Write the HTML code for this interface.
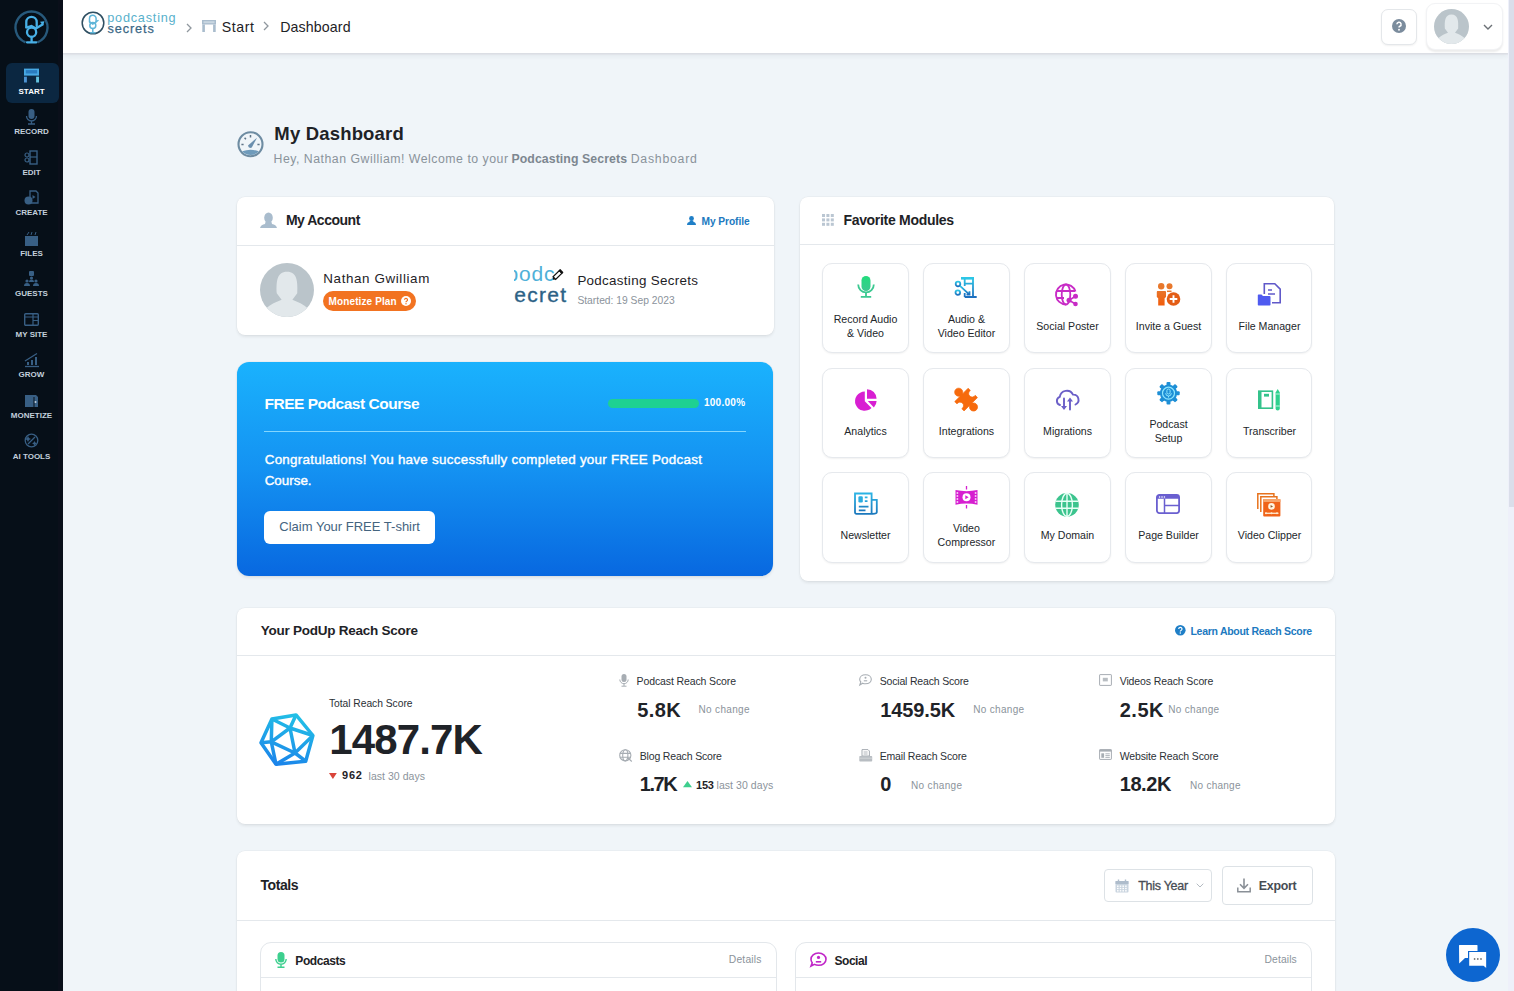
<!DOCTYPE html>
<html><head><meta charset="utf-8"><title>Dashboard</title>
<style>
*{box-sizing:border-box;margin:0;padding:0}
html,body{width:1514px;height:991px;overflow:hidden;background:#f0f5f9;font-family:"Liberation Sans",sans-serif;color:#1e2226}
.a{position:absolute}
.t{position:absolute;white-space:pre;line-height:1}
.card{position:absolute;background:#fff;border-radius:8px;box-shadow:0 0 0 .5px rgba(0,0,0,.04),0 1.5px 3px rgba(0,0,0,.07)}
.hl{position:absolute;left:0;right:0;height:1px;background:#e4e8ec}
.tile{position:absolute;width:87px;height:89px;border:1px solid #e6e9ed;border-radius:10px;background:#fff;box-shadow:0 1px 2px rgba(0,0,0,.06)}
.ic{position:absolute;overflow:visible}
</style></head><body>
<div class="a" style="left:0;top:0;width:63px;height:991px;background:#060f18"></div><div class="a" style="left:57.5px;top:0;width:5.5px;height:991px;background:#0a0f1a"></div>
<div class="a" style="left:5.5px;top:63.3px;width:53px;height:39.4px;background:#0b2741;border-radius:6px"></div>
<svg class="ic" style="left:12px;top:8px" width="40" height="40" viewBox="0 0 40 40">
<path d="M13.5 34.3 A16 16 0 1 1 25.5 34.3" fill="none" stroke="#27597b" stroke-width="2.4"/>
<g fill="none" stroke="#48b0e6" stroke-width="2.3" stroke-linecap="round">
<path d="M14.3 19 V14 a5.2 5.2 0 0 1 10.4 0 V18"/>
<circle cx="19.6" cy="24.2" r="4.6"/>
<path d="M19.6 28.8 V33.5 M15 34.3 H24.3"/>
<path d="M14.3 19.5 L19.5 18 L24 20.5 L30.5 16.5"/>
</g><path d="M28 13.8 L32.5 13.2 L31 17.8 Z" fill="#48b0e6"/></svg>
<svg class="ic" style="left:24px;top:68.4px" width="15" height="15" viewBox="0 0 15 15"><rect x="0" y="0.6" width="15" height="7" fill="#48a9e4"/><rect x="1.8" y="2.1" width="11.4" height="3.4" fill="#2a7cc0"/><rect x="0" y="8.7" width="2.9" height="5.8" fill="#4d93d2"/><rect x="12.1" y="8.7" width="2.9" height="5.8" fill="#63c2df"/></svg>
<svg class="ic" style="left:24px;top:108.9px" width="15" height="15" viewBox="0 0 15 15"><rect x="4.5" y="0" width="6" height="10" rx="3" fill="#385f84"/><path d="M2.5 7 a5 5 0 0 0 10 0 M7.5 12 v2.5 M4 15 h7" stroke="#385f84" stroke-width="1.3" fill="none"/></svg>
<svg class="ic" style="left:24px;top:149.5px" width="15" height="15" viewBox="0 0 15 15"><rect x="6" y="1" width="7" height="13" fill="none" stroke="#385f84" stroke-width="1.4"/><circle cx="3" cy="5" r="2" fill="none" stroke="#385f84" stroke-width="1.2"/><circle cx="3" cy="10" r="2" fill="none" stroke="#385f84" stroke-width="1.2"/><path d="M6 7 h7" stroke="#385f84" stroke-width="1.2"/></svg>
<svg class="ic" style="left:24px;top:190.1px" width="15" height="15" viewBox="0 0 15 15"><path d="M6 1 h6 l2 2 v10 h-8z" fill="none" stroke="#385f84" stroke-width="1.3"/><path d="M8.5 5 l3 2 -3 2z" fill="#385f84"/><circle cx="4.5" cy="10.5" r="4" fill="#385f84"/></svg>
<svg class="ic" style="left:24px;top:230.6px" width="15" height="15" viewBox="0 0 15 15"><rect x="1" y="5" width="13" height="10" fill="#385f84"/><path d="M3 4 l2-3 M7 4 l1-3 M11 4 l1-3" stroke="#385f84" stroke-width="1"/></svg>
<svg class="ic" style="left:24px;top:271.1px" width="15" height="15" viewBox="0 0 15 15"><rect x="5" y="0" width="5" height="5" rx="1" fill="#385f84"/><circle cx="7.5" cy="7" r="1.6" fill="#385f84"/><circle cx="3" cy="10" r="1.6" fill="#385f84"/><circle cx="12" cy="10" r="1.6" fill="#385f84"/><path d="M0 15 a3 3 0 0 1 6 0z M9 15 a3 3 0 0 1 6 0z M5 11 a2.5 2.5 0 0 1 5 0z" fill="#385f84"/></svg>
<svg class="ic" style="left:24px;top:311.7px" width="15" height="15" viewBox="0 0 15 15"><rect x="0.7" y="1.7" width="13.6" height="11.6" rx="1" fill="none" stroke="#385f84" stroke-width="1.4"/><path d="M0.7 5 h13.6 M9 1.7 v11.6 M9 8.5 h5.3" stroke="#385f84" stroke-width="1.2"/></svg>
<svg class="ic" style="left:24px;top:352.2px" width="15" height="15" viewBox="0 0 15 15"><path d="M1 14.5 h14" stroke="#385f84" stroke-width="1.3"/><rect x="3" y="10" width="2" height="3" fill="#385f84"/><rect x="7" y="8" width="2" height="5" fill="#385f84"/><rect x="11" y="5" width="2" height="8" fill="#385f84"/><path d="M1 9 L13 1.5" stroke="#385f84" stroke-width="1.3"/></svg>
<svg class="ic" style="left:24px;top:392.8px" width="15" height="15" viewBox="0 0 15 15"><path d="M1 2 h11 l2 2 v10 h-13z" fill="#385f84"/><path d="M10 4 v10" stroke="#08121b" stroke-width="1"/><circle cx="11.5" cy="9" r="1" fill="#c3d0dc"/></svg>
<svg class="ic" style="left:24px;top:433.4px" width="15" height="15" viewBox="0 0 15 15"><circle cx="7.5" cy="7.5" r="6.3" fill="none" stroke="#385f84" stroke-width="1.3"/><path d="M4 11 L11 4" stroke="#385f84" stroke-width="1.3"/><path d="M4 3 l1 2 2 1 -2 1 -1 2 -1-2 -2-1 2-1z M10.5 8 l.8 1.6 1.6.8 -1.6.8 -.8 1.6 -.8-1.6 -1.6-.8 1.6-.8z" fill="#385f84"/></svg>
<div class="a" style="left:63px;top:0;width:1445px;height:53px;background:#fff;box-shadow:0 1.5px 0 rgba(215,217,224,.7),0 3px 5px rgba(40,50,70,.07)"></div>
<svg class="ic" style="left:81px;top:11px" width="24" height="24" viewBox="0 0 24 24"><circle cx="12" cy="12" r="10.8" fill="none" stroke="#2f4f62" stroke-width="1.5"/>
<g fill="none" stroke="#5fb5d8" stroke-width="1.5" stroke-linecap="round"><path d="M8.5 11 V7.5 a3.3 3.3 0 0 1 6.6 0 V11"/><circle cx="11.8" cy="14.5" r="3"/><path d="M11.8 17.5 V21.5 M9.5 21.8 H14"/><path d="M8.7 11 L11.8 13 L17 9.5"/></g></svg>
<svg class="ic" style="left:186px;top:22.5px" width="7" height="10" viewBox="0 0 7 10"><path d="M1 1 L5 5 L1 9" fill="none" stroke="#8f979e" stroke-width="1.3"/></svg>
<svg class="ic" style="left:263px;top:20.5px" width="7" height="10" viewBox="0 0 7 10"><path d="M1 1 L5 5 L1 9" fill="none" stroke="#8f979e" stroke-width="1.3"/></svg>
<svg class="ic" style="left:201.5px;top:20px" width="14" height="12" viewBox="0 0 14 12"><rect x="0" y="0" width="14" height="4.5" fill="#a9bccd"/><rect x="1.5" y="1.2" width="11" height="2" fill="#c9d6e1"/><rect x="0.3" y="4.5" width="2.6" height="7.5" fill="#a9bccd"/><rect x="11.1" y="4.5" width="2.6" height="7.5" fill="#a9bccd"/></svg>
<div class="a" style="left:1381px;top:9px;width:35.5px;height:36px;border:1px solid #e4e7ea;border-radius:7px;background:#fff;box-shadow:0 1px 2px rgba(0,0,0,.06)"></div>
<svg class="ic" style="left:1392px;top:19px" width="14" height="14" viewBox="0 0 14 14"><circle cx="7" cy="7" r="7" fill="#7b8c9d"/><path d="M4.9 5.3 a2.1 2.1 0 1 1 3 1.9 c-.6.3-.9.7-.9 1.4" fill="none" stroke="#fff" stroke-width="1.5"/><circle cx="7" cy="10.7" r=".95" fill="#fff"/></svg>
<div class="a" style="left:1425.5px;top:3px;width:77px;height:46.5px;border:1px solid #f2f3f5;border-radius:9px;background:#fff;box-shadow:0 1.5px 2px rgba(0,0,0,.08)"></div>
<svg class="ic" style="left:1433.5px;top:9px" width="35" height="35" viewBox="0 0 35 35"><clipPath id="cp1433"><circle cx="17.5" cy="17.5" r="17.5"/></clipPath><g clip-path="url(#cp1433)"><rect width="35" height="35" fill="#bac4ca"/>
<path d="M10.85 19.60 C10.50 12.25 10.85 5.60 17.50 5.60 C24.15 5.60 24.50 12.25 24.15 19.60 L21.00 23.80 C24.50 25.20 28.00 26.60 31.50 29.75 L31.50 35.00 L3.50 35.00 L3.50 29.75 C7.00 26.60 10.50 25.20 14.00 23.80 Z" fill="#e2e8eb"/></g></svg>
<svg class="ic" style="left:1482.5px;top:23.5px" width="10" height="6" viewBox="0 0 10 6"><path d="M1 1 L5 5 L9 1" fill="none" stroke="#6b7075" stroke-width="1.4"/></svg>
<div class="a" style="left:1508px;top:0;width:6px;height:991px;background:#eef0fa"></div>
<div class="a" style="left:1509px;top:0;width:5px;height:507px;background:#dadeea"></div>
<svg class="ic" style="left:237px;top:131px" width="27" height="27" viewBox="0 0 27 27"><circle cx="13.5" cy="13.2" r="12" fill="none" stroke="#6e8ca2" stroke-width="2.1"/>
<path d="M5.2 20.3 Q13.5 17.3 21.8 20.3 A11 11 0 0 1 5.2 20.3 Z" fill="#6f9bbb"/>
<path d="M11 14.6 L20 6.7 L14.8 16.6 Q11.6 17.8 11 14.6 Z" fill="#6b8fae"/>
<g stroke="#5f7587" stroke-width="1.5"><path d="M13.5 4.1 v2.3 M7.6 6.7 l1.3 1.5 M4.4 13.5 h2.2 M20.4 13.5 h2.2"/></g></svg>
<div class="card" style="left:237px;top:197px;width:536.5px;height:138px"><div class="hl" style="top:47.5px"></div></div>
<div class="card" style="left:237px;top:362px;width:536px;height:214px;border-radius:12px;background:linear-gradient(180deg,#1ab2fd 0%,#1492f2 50%,#0868e0 100%)"></div>
<div class="card" style="left:800px;top:197px;width:534px;height:384px"><div class="hl" style="top:46.5px"></div></div>
<div class="card" style="left:237px;top:608px;width:1097.5px;height:216px"><div class="hl" style="top:47px"></div></div>
<div class="card" style="left:237px;top:851px;width:1097.5px;height:160px"><div class="hl" style="top:69px"></div></div>
<svg class="ic" style="left:260px;top:212px" width="17" height="16" viewBox="0 0 17 16"><ellipse cx="8.5" cy="5.8" rx="4.3" ry="5.3" fill="#a9bccd"/><path d="M5.5 10 L11.5 10 L12 12 C14.5 12.5 16.5 13.5 17 16 L0 16 C0.5 13.5 2.5 12.5 5 12 Z" fill="#a9bccd"/></svg>
<svg class="ic" style="left:687px;top:216px" width="9" height="9" viewBox="0 0 9 9"><circle cx="4.5" cy="2.5" r="2.4" fill="#1f7fc7"/><path d="M2.8 4.5 h3.4 l.3 1.5 c1.5.3 2.4 1 2.5 3 h-9 c.1-2 1-2.7 2.5-3z" fill="#1f7fc7"/></svg>
<svg class="ic" style="left:260px;top:263px" width="54" height="54" viewBox="0 0 54 54"><clipPath id="cp260"><circle cx="27.0" cy="27.0" r="27.0"/></clipPath><g clip-path="url(#cp260)"><rect width="54" height="54" fill="#bac4ca"/>
<path d="M16.74 30.24 C16.20 18.90 16.74 8.64 27.00 8.64 C37.26 8.64 37.80 18.90 37.26 30.24 L32.40 36.72 C37.80 38.88 43.20 41.04 48.60 45.90 L48.60 54.00 L5.40 54.00 L5.40 45.90 C10.80 41.04 16.20 38.88 21.60 36.72 Z" fill="#e2e8eb"/></g></svg>
<div class="a" style="left:323px;top:291px;width:93px;height:19.5px;border-radius:10px;background:#f27321"></div>
<svg class="ic" style="left:401px;top:295.5px" width="10" height="10" viewBox="0 0 10 10"><circle cx="5" cy="5" r="5" fill="#fff"/><path d="M3.5 3.8 a1.5 1.5 0 1 1 2.1 1.4 c-.4.2-.6.5-.6 1" fill="none" stroke="#f27321" stroke-width="1.2"/><circle cx="5" cy="7.7" r=".7" fill="#f27321"/></svg>
<div class="a" style="left:514px;top:262px;width:54px;height:43px;overflow:hidden"><div class="t" style="left:-7.5px;top:1.3px;font-size:21px;color:#4fb0d8;letter-spacing:0.8px">podc</div><div class="t" style="left:0.3px;top:21.7px;font-size:21px;color:#2c6286;letter-spacing:1.3px;-webkit-text-stroke:0.35px #2c6286">ecret</div></div>
<svg class="ic" style="left:551px;top:268.5px" width="12.5" height="12.5" viewBox="0 0 12.5 12.5"><g transform="rotate(-45 6.25 6.25)"><rect x="2.2" y="4.4" width="8.8" height="3.7" fill="#fff" stroke="#111" stroke-width="1.2"/><path d="M2.2 4.4 L0 6.25 L2.2 8.1Z" fill="#111"/><rect x="10.4" y="3.8" width="2.4" height="4.9" rx=".6" fill="#111"/></g></svg>
<div class="a" style="left:264px;top:431px;width:482px;height:1px;background:rgba(150,225,255,.85)"></div>
<div class="a" style="left:608px;top:399px;width:91px;height:9px;border-radius:5px;background:#1ed192"></div>
<div class="a" style="left:264px;top:510.5px;width:171px;height:33.5px;border-radius:6px;background:#fff"></div>
<svg class="ic" style="left:822px;top:214px" width="12" height="12" viewBox="0 0 12 12"><rect x="0.0" y="0.0" width="3" height="3" fill="#bac6d2"/><rect x="4.4" y="0.0" width="3" height="3" fill="#bac6d2"/><rect x="8.8" y="0.0" width="3" height="3" fill="#bac6d2"/><rect x="0.0" y="4.4" width="3" height="3" fill="#bac6d2"/><rect x="4.4" y="4.4" width="3" height="3" fill="#bac6d2"/><rect x="8.8" y="4.4" width="3" height="3" fill="#bac6d2"/><rect x="0.0" y="8.8" width="3" height="3" fill="#bac6d2"/><rect x="4.4" y="8.8" width="3" height="3" fill="#bac6d2"/><rect x="8.8" y="8.8" width="3" height="3" fill="#bac6d2"/></svg>
<div class="tile" style="left:822px;top:263px;height:89.5px"></div>
<div class="tile" style="left:923px;top:263px;height:89.5px"></div>
<div class="tile" style="left:1024px;top:263px;height:89.5px"></div>
<div class="tile" style="left:1125px;top:263px;height:89.5px"></div>
<div class="tile" style="left:1226px;top:263px;height:89.5px;width:86px"></div>
<div class="tile" style="left:822px;top:368.3px;height:89.5px"></div>
<div class="tile" style="left:923px;top:368.3px;height:89.5px"></div>
<div class="tile" style="left:1024px;top:368.3px;height:89.5px"></div>
<div class="tile" style="left:1125px;top:368.3px;height:89.5px"></div>
<div class="tile" style="left:1226px;top:368.3px;height:89.5px;width:86px"></div>
<div class="tile" style="left:822px;top:472px;height:90.5px"></div>
<div class="tile" style="left:923px;top:472px;height:90.5px"></div>
<div class="tile" style="left:1024px;top:472px;height:90.5px"></div>
<div class="tile" style="left:1125px;top:472px;height:90.5px"></div>
<div class="tile" style="left:1226px;top:472px;height:90.5px;width:86px"></div>
<svg class="ic" style="left:856.9px;top:276.0px" width="18" height="22" viewBox="0 0 18 22"><defs><linearGradient id="gm" x1="0" y1="0" x2="0" y2="1"><stop offset="0" stop-color="#22dc7c"/><stop offset="1" stop-color="#3cc991"/></linearGradient></defs>
<rect x="4.5" y="0" width="9" height="15" rx="4.5" fill="url(#gm)"/>
<path d="M1.2 8.5 a7.8 7.8 0 0 0 15.6 0" fill="none" stroke="#3cc991" stroke-width="1.8"/>
<path d="M9 16.5 V20.5 M3.8 20.8 H14.2" fill="none" stroke="#3cc991" stroke-width="1.8"/></svg>
<svg class="ic" style="left:955.0px;top:276.9px" width="23" height="21" viewBox="0 0 23 21"><defs><linearGradient id="ge" x1="0" y1="0" x2="0" y2="1"><stop offset="0" stop-color="#2cc6e6"/><stop offset="1" stop-color="#1c6fbf"/></linearGradient></defs>
<rect x="6" y="0" width="13" height="2.6" fill="#2cc6e6"/>
<g fill="none" stroke="url(#ge)" stroke-width="1.8">
<path d="M9.7 1 V9 M18 1 V20 H21.7 M9.7 20 H18 M9.7 6.6 H18 M9.7 16 V20"/>
<circle cx="3" cy="7" r="2.3"/><circle cx="2.8" cy="15.6" r="2.3"/><path d="M5 8.8 L14.2 17.3 M11.5 17.6 H14.5 V14.3"/></g></svg>
<svg class="ic" style="left:1055.1px;top:283.0px" width="24" height="23" viewBox="0 0 24 23"><g fill="none" stroke="#c82cc6" stroke-width="1.8">
<path d="M20.5 8.5 A10 10 0 1 0 11 21.5"/><ellipse cx="11" cy="11.5" rx="4.3" ry="10"/><path d="M1.5 8 H20 M1.5 15 H9"/></g>
<g fill="#c82cc6"><circle cx="20.5" cy="13.3" r="2.5"/><circle cx="14" cy="17.3" r="2.5"/><circle cx="20.5" cy="21" r="2.3"/></g>
<path d="M20.5 13.3 L14 17.3 L20.5 21" stroke="#c82cc6" stroke-width="1.6" fill="none"/></svg>
<svg class="ic" style="left:1155.9px;top:283.0px" width="25" height="23.5" viewBox="0 0 25 23.5"><defs><linearGradient id="go" x1="0" y1="0" x2="0" y2="1"><stop offset="0" stop-color="#e8742a"/><stop offset="1" stop-color="#f25d0c"/></linearGradient></defs>
<circle cx="5.2" cy="3.3" r="3.2" fill="#e8782c"/><circle cx="13.5" cy="3.3" r="3" fill="#e8782c"/>
<path d="M1.5 8 H9 C9.6 8 10 8.5 10 9 V14 L8.6 15.2 V22.5 H2.2 V15.2 L0.8 14 V9 C0.8 8.5 1.2 8 1.5 8Z" fill="url(#go)"/>
<path d="M11 8.3 H15.5" stroke="#e8782c" stroke-width="1.5"/>
<circle cx="17.5" cy="16" r="6.8" fill="#e35d16"/><path d="M17.5 12.2 V19.8 M13.7 16 H21.3" stroke="#fff" stroke-width="1.9"/></svg>
<svg class="ic" style="left:1257.2px;top:282.9px" width="24" height="23.5" viewBox="0 0 24 23.5"><path d="M7.3 11 V0.8 H17.8 L23.2 6.2 V19.7 H15" fill="none" stroke="#6059c9" stroke-width="1.6"/>
<path d="M11 7 H15 M11 11 H18" stroke="#6059c9" stroke-width="1.6"/>
<path d="M0.8 12.2 Q0.8 11.5 1.5 11.5 H4.5 L6 13 H12.5 Q13.5 13 13.5 14 V21.8 Q13.5 22.6 12.7 22.6 H1.6 Q0.8 22.6 0.8 21.8Z" fill="#4f5bf0"/></svg>
<svg class="ic" style="left:854.6px;top:388.8px" width="22" height="22" viewBox="0 0 22 22"><g fill="#d81fd2"><path d="M9.8 2.6 V12.2 L16.5 18.9 A9.6 9.6 0 1 1 9.8 2.6Z"/>
<path d="M12 0.2 A9.6 9.6 0 0 1 21.6 9.8 H12Z"/><path d="M12.8 12 H21.6 A9.6 9.6 0 0 1 18.9 18.4Z"/></g></svg>
<svg class="ic" style="left:954.1px;top:387.9px" width="24" height="23.5" viewBox="0 0 24 23.5"><g transform="translate(12.1 11.6) rotate(-45) scale(1.1)" fill="#f66a0d" stroke="#f66a0d" stroke-width="0.6" stroke-linejoin="round">
<path d="M-8.6 -6 H-2 V-6.4 A3.7 3.7 0 1 1 2 -6.4 V-6 H8.6 V-3.1 A3.2 3.2 0 1 0 8.6 3.1 V6 H2 V6.4 A3.7 3.7 0 1 1 -2 6.4 V6 H-8.6 V3.1 A3.2 3.2 0 1 0 -8.6 -3.1 Z"/></g></svg>
<svg class="ic" style="left:1055.1px;top:388.9px" width="24" height="21.5" viewBox="0 0 24 21.5"><g fill="none" stroke="#6b5fc8" stroke-width="1.9" stroke-linecap="round">
<path d="M5 16 A4.3 4.3 0 0 1 4.8 7.8 A7 7 0 0 1 18 5.6 A5.2 5.2 0 0 1 20.5 15.5"/>
<path d="M9 9.5 V19 M15 20.5 V11"/></g>
<path d="M6 17 H12 L9 21Z M12 12.5 H18 L15 8.5Z" fill="#6b5fc8"/></svg>
<svg class="ic" style="left:1157.3px;top:381.9px" width="23" height="22.5" viewBox="0 0 23 22.5"><g transform="translate(11.5 11.2)"><g fill="#1e8fd6">
<circle r="8.6"/><rect x="-2" y="-11.2" width="4" height="4" rx="1" transform="rotate(0)"/><rect x="-2" y="-11.2" width="4" height="4" rx="1" transform="rotate(45)"/><rect x="-2" y="-11.2" width="4" height="4" rx="1" transform="rotate(90)"/><rect x="-2" y="-11.2" width="4" height="4" rx="1" transform="rotate(135)"/><rect x="-2" y="-11.2" width="4" height="4" rx="1" transform="rotate(180)"/><rect x="-2" y="-11.2" width="4" height="4" rx="1" transform="rotate(225)"/><rect x="-2" y="-11.2" width="4" height="4" rx="1" transform="rotate(270)"/><rect x="-2" y="-11.2" width="4" height="4" rx="1" transform="rotate(315)"/></g>
<circle r="6" fill="none" stroke="#8ee6ff" stroke-width="1.2"/>
<rect x="-1.6" y="-4.2" width="3.2" height="5" rx="1.6" fill="none" stroke="#8ee6ff" stroke-width="1"/>
<path d="M-2.8 0 a2.8 2.8 0 0 0 5.6 0 M0 2.8 V4.3" fill="none" stroke="#8ee6ff" stroke-width="1"/></g></svg>
<svg class="ic" style="left:1258.1px;top:388.5px" width="22.5" height="21.5" viewBox="0 0 22.5 21.5"><g fill="none" stroke="#34c28b" stroke-width="1.6"><rect x="0.8" y="2.2" width="13.6" height="17"/></g>
<rect x="0.5" y="1.9" width="3" height="17.6" fill="#34c28b"/><rect x="6" y="4.8" width="5" height="2.8" fill="#34c28b"/>
<path d="M19.7 0 L21.8 3.5 V19.5 Q21.8 21.4 19.7 21.4 Q17.6 21.4 17.6 19.5 V3.5Z" fill="#2fd18e"/>
<path d="M17.6 5 H21.8 M17.6 17 H21.8" stroke="#b9f5dc" stroke-width="1"/></svg>
<svg class="ic" style="left:853.8px;top:491.9px" width="24" height="23" viewBox="0 0 24 23"><defs><linearGradient id="gn" x1="0" y1="0" x2="0" y2="1"><stop offset="0" stop-color="#2bb3e4"/><stop offset="1" stop-color="#1b78bd"/></linearGradient></defs>
<g fill="none" stroke="url(#gn)" stroke-width="1.8"><path d="M18.6 21.8 H2.5 Q1 21.8 1 20.3 V1.5 H17.6 V20.8 Q17.6 21.8 18.6 21.8 Q22.8 21.8 22.8 20.3 V7.8 H17.6"/>
<path d="M4.8 14.7 H14.5 M4.8 18.3 H11.5 M10.8 5.3 H13.5 M10.8 9.2 H13.5"/></g><rect x="4.4" y="4.2" width="4.4" height="6.4" rx="1.3" fill="#2bace0"/></svg>
<svg class="ic" style="left:954.6px;top:485.7px" width="23" height="22.5" viewBox="0 0 23 22.5"><path d="M0.5 4 Q11.5 6.3 22.5 4 V18.7 Q11.5 16.4 0.5 18.7Z" fill="#d61fd0"/>
<g fill="#fff"><rect x="1.6" y="6.3" width="1.6" height="1.4"/><rect x="1.6" y="9.3" width="1.6" height="1.4"/><rect x="1.6" y="12.3" width="1.6" height="1.4"/><rect x="1.6" y="15.3" width="1.6" height="1.4"/><rect x="19.8" y="6.3" width="1.6" height="1.4"/><rect x="19.8" y="9.3" width="1.6" height="1.4"/><rect x="19.8" y="12.3" width="1.6" height="1.4"/><rect x="19.8" y="15.3" width="1.6" height="1.4"/></g>
<circle cx="11.5" cy="11.3" r="4" fill="#fff"/><path d="M10.3 9.3 L13.6 11.3 L10.3 13.3Z" fill="#d61fd0"/>
<path d="M11.5 0 V3.6 M11.5 19 V22.6" stroke="#d61fd0" stroke-width="1.3"/></svg>
<svg class="ic" style="left:1055.1px;top:493.0px" width="24" height="23.5" viewBox="0 0 24 23.5"><circle cx="12" cy="11.8" r="11.8" fill="#3cc48e"/>
<g fill="none" stroke="#e8fff6" stroke-width="1.4"><ellipse cx="12" cy="11.8" rx="5.4" ry="11.6"/><path d="M12 0 V23.6 M0.5 8.3 H23.5 M0.5 15.3 H23.5"/></g></svg>
<svg class="ic" style="left:1156.2px;top:493.9px" width="24" height="20" viewBox="0 0 24 20"><rect x="0.9" y="0.9" width="22.2" height="18.2" rx="2.5" fill="none" stroke="#6a5fd0" stroke-width="1.8"/>
<path d="M0.9 3 Q0.9 0.9 3 0.9 H21 Q23.1 0.9 23.1 3 V4.8 H0.9Z" fill="#6a5fd0"/>
<g fill="#fff"><circle cx="3.6" cy="3" r=".8"/><circle cx="6" cy="3" r=".8"/><circle cx="8.4" cy="3" r=".8"/></g>
<path d="M8.5 4.8 V19 M8.5 11.5 H23" stroke="#6a5fd0" stroke-width="1.5"/></svg>
<svg class="ic" style="left:1257.3px;top:492.9px" width="24" height="24" viewBox="0 0 24 24"><g fill="none" stroke="#e7731e" stroke-width="1.5"><path d="M0.8 16 V0.8 H16.9 V3"/><path d="M3.8 19 V3.8 H19.9 V6"/></g>
<rect x="6.2" y="6" width="17.2" height="17.4" rx="1" fill="#f06318"/><rect x="6.2" y="6" width="17.2" height="3" fill="#f6a46a"/>
<circle cx="14.5" cy="13.4" r="3.3" fill="#fff4e0"/><path d="M13.6 12 L16 13.4 L13.6 14.8Z" fill="#8a5a2a"/>
<path d="M8 20.3 H21.5" stroke="#ffe7cc" stroke-width="1.3"/><g fill="#ffe7cc"><circle cx="9" cy="20.3" r="1"/><circle cx="14.5" cy="20.3" r="1"/><circle cx="20" cy="20.3" r="1"/></g></svg>
<svg class="ic" style="left:259px;top:713px" width="56" height="53" viewBox="0 0 56 53"><defs><linearGradient id="gi" x1="0.6" y1="0" x2="0.3" y2="1"><stop offset="0" stop-color="#22bfe6"/><stop offset="1" stop-color="#1b84ea"/></linearGradient></defs>
<g fill="none" stroke="url(#gi)" stroke-width="3.5" stroke-linejoin="round">
<path d="M12.9 6 L37 1.9 L53.9 22.5 L46.7 48.2 L17 51.3 L2 29.7 Z"/>
<path d="M12.9 6 L31 15 L53.9 22.5 M37 1.9 L31 15 L12.3 28.8 L36 40 L31 15 M12.9 6 L12.3 28.8 L17 51.3 M2 29.7 L12.3 28.8 M36 40 L53.9 22.5 M36 40 L46.7 48.2 M36 40 L17 51.3"/></g></svg>
<svg class="ic" style="left:328.8px;top:772.8px" width="8" height="6.5" viewBox="0 0 8 6.5"><path d="M0 0 H7.8 L3.9 6Z" fill="#d9443a"/></svg>
<svg class="ic" style="left:682.8px;top:781.3px" width="9.2" height="6.5" viewBox="0 0 9.2 6.5"><path d="M0 6.2 H9 L4.5 0Z" fill="#3ecf8e"/></svg>
<svg class="ic" style="left:618.5px;top:674px" width="10" height="13" viewBox="0 0 10 13"><rect x="2.5" y="0" width="5" height="8" rx="2.5" fill="#a7adb3"/><path d="M0.8 5.5 a4.2 4.2 0 0 0 8.4 0 M5 9.8 V12 M2.5 12.2 H7.5" fill="none" stroke="#a7adb3" stroke-width="1"/></svg>
<svg class="ic" style="left:618.5px;top:748.5px" width="13.5" height="13" viewBox="0 0 13.5 13"><g fill="none" stroke="#a7adb3" stroke-width="1.1"><circle cx="6.3" cy="6.3" r="5.6"/><ellipse cx="6.3" cy="6.3" rx="2.6" ry="5.6"/><path d="M0.8 4.4 H11.8 M0.8 8.2 H11.8"/><path d="M9 9 L12.8 12.5"/></g></svg>
<svg class="ic" style="left:858.5px;top:674px" width="13" height="12" viewBox="0 0 13 12"><path d="M6.5 0.7 C10 0.7 12.3 2.8 12.3 5.3 C12.3 7.8 10 9.8 6.5 9.8 C5.5 9.8 4.5 9.6 3.7 9.2 L0.8 11 L1.8 8 C1.1 7.3 0.7 6.3 0.7 5.3 C0.7 2.8 3 0.7 6.5 0.7Z" fill="none" stroke="#a7adb3" stroke-width="1.1"/><circle cx="6.5" cy="3.8" r="1" fill="#a7adb3"/><path d="M4.8 6.8 h3.4" stroke="#a7adb3" stroke-width="1.1"/></svg>
<svg class="ic" style="left:858.5px;top:748.5px" width="13.5" height="13" viewBox="0 0 13.5 13"><path d="M3 0.6 H9 L10.4 2 V7 H3Z" fill="none" stroke="#a7adb3" stroke-width="1"/><path d="M4.6 3 H8.6 M4.6 5 H8.6" stroke="#a7adb3" stroke-width=".9"/><rect x="0.3" y="7" width="12.9" height="5.6" rx=".8" fill="#b8bdc2"/><path d="M0.3 9.2 H13.2" stroke="#d7dadd" stroke-width=".8"/></svg>
<svg class="ic" style="left:1098.5px;top:674px" width="13" height="12" viewBox="0 0 13 12"><rect x="0.6" y="0.6" width="11.8" height="10.8" rx=".5" fill="none" stroke="#a7adb3" stroke-width="1"/><rect x="3.8" y="3.8" width="5" height="3.6" fill="#b8bdc2"/></svg>
<svg class="ic" style="left:1098.5px;top:749px" width="13" height="11" viewBox="0 0 13 11"><rect x="0.6" y="0.6" width="11.8" height="9.8" rx=".5" fill="none" stroke="#a7adb3" stroke-width="1"/><rect x="0.6" y="0.6" width="11.8" height="2" fill="#a7adb3"/><rect x="2.3" y="4.3" width="2.8" height="4.5" fill="#a7adb3"/><path d="M6.4 4.8 H10.8 M6.4 6.6 H10.8 M6.4 8.4 H10.8" stroke="#a7adb3" stroke-width=".9"/></svg>
<svg class="ic" style="left:1175px;top:625px" width="10.6" height="10.6" viewBox="0 0 10.6 10.6"><circle cx="5.3" cy="5.3" r="5.3" fill="#1f7fc7"/><path d="M3.7 4 a1.65 1.65 0 1 1 2.3 1.5 c-.45.2-.7.55-.7 1.1" fill="none" stroke="#fff" stroke-width="1.2"/><circle cx="5.3" cy="8.1" r=".75" fill="#fff"/></svg>
<div class="a" style="left:1103.5px;top:869px;width:108.5px;height:32.5px;border:1px solid #dde2e6;border-radius:4px;background:#fff"></div>
<div class="a" style="left:1221.5px;top:866px;width:91px;height:38.5px;border:1px solid #dde2e6;border-radius:4px;background:#fff"></div>
<svg class="ic" style="left:1114.5px;top:878.5px" width="14" height="14" viewBox="0 0 14 14"><rect x="0.5" y="2" width="13" height="11.5" rx="1" fill="#c9d4df"/><rect x="0.5" y="2" width="13" height="3" fill="#aebccb"/><path d="M3.5 0.5 v3 M10.5 0.5 v3" stroke="#aebccb" stroke-width="1.4"/><rect x="2.0" y="6.5" width="1.6" height="1.4" fill="#fff"/><rect x="2.0" y="8.8" width="1.6" height="1.4" fill="#fff"/><rect x="2.0" y="11.1" width="1.6" height="1.4" fill="#fff"/><rect x="4.7" y="6.5" width="1.6" height="1.4" fill="#fff"/><rect x="4.7" y="8.8" width="1.6" height="1.4" fill="#fff"/><rect x="4.7" y="11.1" width="1.6" height="1.4" fill="#fff"/><rect x="7.4" y="6.5" width="1.6" height="1.4" fill="#fff"/><rect x="7.4" y="8.8" width="1.6" height="1.4" fill="#fff"/><rect x="7.4" y="11.1" width="1.6" height="1.4" fill="#fff"/><rect x="10.100000000000001" y="6.5" width="1.6" height="1.4" fill="#fff"/><rect x="10.100000000000001" y="8.8" width="1.6" height="1.4" fill="#fff"/><rect x="10.100000000000001" y="11.1" width="1.6" height="1.4" fill="#fff"/></svg>
<svg class="ic" style="left:1195.5px;top:883px" width="8" height="5" viewBox="0 0 8 5"><path d="M.7 .7 L4 4 L7.3 .7" fill="none" stroke="#b4bbc2" stroke-width="1"/></svg>
<svg class="ic" style="left:1237px;top:878px" width="14" height="15" viewBox="0 0 14 15"><path d="M7 0.5 V10 M3 6.3 L7 10.3 L11 6.3" fill="none" stroke="#8a9097" stroke-width="1.6"/><path d="M0.8 9.5 V13.8 H13.2 V9.5" fill="none" stroke="#8a9097" stroke-width="1.5"/></svg>
<div class="a" style="left:260px;top:942px;width:517px;height:60px;border:1px solid #e3e7eb;border-radius:11px;background:#fff"><div class="hl" style="top:34px"></div></div>
<div class="a" style="left:794.7px;top:942px;width:517.8px;height:60px;border:1px solid #e3e7eb;border-radius:11px;background:#fff"><div class="hl" style="top:34px"></div></div>
<svg class="ic" style="left:275px;top:952px" width="12" height="16" viewBox="0 0 12 16"><rect x="2.5" y="0" width="7" height="10.5" rx="3.5" fill="#3ccf8e"/><path d="M0.8 7 a5.2 5.2 0 0 0 10.4 0 M6 12.3 V15 M2.5 15.2 H9.5" fill="none" stroke="#3ccf8e" stroke-width="1.4"/></svg>
<svg class="ic" style="left:809.5px;top:952px" width="17" height="15" viewBox="0 0 17 15"><path d="M8.5 1 C12.8 1 16 3.8 16 7.2 C16 10.6 12.8 13.3 8.5 13.3 C7 13.3 5.6 13 4.4 12.4 L1 14.2 L2.2 10.8 C1.4 9.8 1 8.5 1 7.2 C1 3.8 4.2 1 8.5 1Z" fill="none" stroke="#c026c8" stroke-width="1.6"/><circle cx="8.5" cy="5.4" r="1.6" fill="#c026c8"/><path d="M5.8 9.8 h5.4" stroke="#c026c8" stroke-width="1.6"/></svg>
<div class="a" style="left:1446px;top:928px;width:54px;height:54px;border-radius:50%;background:#0d66d0"></div>
<svg class="ic" style="left:1458px;top:944px" width="30" height="27" viewBox="0 0 30 27"><path d="M1 1.5 Q1 1 1.5 1 H19 Q19.5 1 19.5 1.5 V14 H7 L1.2 19.5 Z" fill="#fff"/><path d="M10.6 7.5 H28.8 V25.2 L25.3 22.4 H10.6 Z" fill="#fff" stroke="#0d66d0" stroke-width="1.2"/><circle cx="16.6" cy="15" r=".9" fill="#777"/><circle cx="19.8" cy="15" r=".9" fill="#777"/><circle cx="23" cy="15" r=".9" fill="#777"/></svg>
<div class="t" style="left:107.2px;top:11.65px;font-size:12.7px;color:#58b1cc;letter-spacing:0.79px;">podcasting</div>
<div class="t" style="left:107.4px;top:23.05px;font-size:12.7px;color:#3b6886;letter-spacing:0.93px;-webkit-text-stroke:0.25px #3b6886;">secrets</div>
<div class="t" style="left:221.7px;top:19.78px;font-size:14.2px;color:#1e2226;letter-spacing:0.56px;">Start</div>
<div class="t" style="left:280.2px;top:19.78px;font-size:14.2px;color:#1e2226;letter-spacing:0.12px;">Dashboard</div>
<div class="t" style="left:274.3px;top:125.44px;font-size:18.5px;color:#1e2226;font-weight:700;letter-spacing:0.18px;">My Dashboard</div>
<div class="t" style="left:273.5px;top:153.19px;font-size:12.3px;color:#8a939b;letter-spacing:0.51px;">Hey, Nathan Gwilliam! Welcome to your</div>
<div class="t" style="left:511.4px;top:153.19px;font-size:12.3px;color:#7d8790;font-weight:700;letter-spacing:0.09px;">Podcasting Secrets</div>
<div class="t" style="left:630.7px;top:153.19px;font-size:12.3px;color:#8a939b;letter-spacing:0.75px;">Dashboard</div>
<div class="t" style="left:285.9px;top:213.25px;font-size:14px;color:#1e2226;font-weight:700;letter-spacing:-0.49px;">My Account</div>
<div class="t" style="left:701.6px;top:216.87px;font-size:10.2px;color:#2079c0;font-weight:700;letter-spacing:-0.08px;">My Profile</div>
<div class="t" style="left:323.3px;top:271.66px;font-size:13.4px;color:#1e2226;letter-spacing:0.61px;">Nathan Gwilliam</div>
<div class="t" style="left:328.6px;top:296.54px;font-size:10px;color:#fff;font-weight:700;letter-spacing:0.11px;">Monetize Plan</div>
<div class="t" style="left:577.4px;top:274.46px;font-size:13.4px;color:#1e2226;letter-spacing:0.30px;">Podcasting Secrets</div>
<div class="t" style="left:577.4px;top:295.98px;font-size:10.3px;color:#8b939b;">Started: 19 Sep 2023</div>
<div class="t" style="left:264.5px;top:395.68px;font-size:15.5px;color:#fff;font-weight:700;letter-spacing:-0.48px;">FREE Podcast Course</div>
<div class="t" style="left:703.9px;top:398.24px;font-size:10px;color:#fff;font-weight:700;letter-spacing:0.29px;">100.00%</div>
<div class="t" style="left:264.7px;top:453.26px;font-size:13.4px;color:#fff;letter-spacing:0.28px;-webkit-text-stroke:0.4px #fff;">Congratulations! You have successfully completed your FREE Podcast</div>
<div class="t" style="left:264.7px;top:474.36px;font-size:13.4px;color:#fff;-webkit-text-stroke:0.4px #fff;">Course.</div>
<div class="t" style="left:279.3px;top:519.80px;font-size:13px;color:#44647f;">Claim Your FREE T-shirt</div>
<div class="t" style="left:843.4px;top:213.15px;font-size:14px;color:#1e2226;font-weight:700;letter-spacing:-0.30px;">Favorite Modules</div>
<div class="t" style="left:833.7px;top:314.13px;font-size:10.6px;color:#23272b;">Record Audio</div>
<div class="t" style="left:847.0px;top:328.13px;font-size:10.6px;color:#23272b;">&amp; Video</div>
<div class="t" style="left:947.9px;top:314.13px;font-size:10.6px;color:#23272b;">Audio &amp;</div>
<div class="t" style="left:937.7px;top:328.13px;font-size:10.6px;color:#23272b;">Video Editor</div>
<div class="t" style="left:1036.3px;top:321.13px;font-size:10.6px;color:#23272b;">Social Poster</div>
<div class="t" style="left:1135.8px;top:321.13px;font-size:10.6px;color:#23272b;">Invite a Guest</div>
<div class="t" style="left:1238.6px;top:321.13px;font-size:10.6px;color:#23272b;">File Manager</div>
<div class="t" style="left:844.3px;top:425.63px;font-size:10.6px;color:#23272b;">Analytics</div>
<div class="t" style="left:938.8px;top:425.63px;font-size:10.6px;color:#23272b;">Integrations</div>
<div class="t" style="left:1043.1px;top:425.63px;font-size:10.6px;color:#23272b;">Migrations</div>
<div class="t" style="left:1149.4px;top:418.63px;font-size:10.6px;color:#23272b;">Podcast</div>
<div class="t" style="left:1154.7px;top:432.63px;font-size:10.6px;color:#23272b;">Setup</div>
<div class="t" style="left:1242.9px;top:425.63px;font-size:10.6px;color:#23272b;">Transcriber</div>
<div class="t" style="left:840.5px;top:530.33px;font-size:10.6px;color:#23272b;">Newsletter</div>
<div class="t" style="left:953.0px;top:523.33px;font-size:10.6px;color:#23272b;">Video</div>
<div class="t" style="left:937.6px;top:537.33px;font-size:10.6px;color:#23272b;">Compressor</div>
<div class="t" style="left:1040.7px;top:530.33px;font-size:10.6px;color:#23272b;">My Domain</div>
<div class="t" style="left:1138.2px;top:530.33px;font-size:10.6px;color:#23272b;">Page Builder</div>
<div class="t" style="left:1237.8px;top:530.33px;font-size:10.6px;color:#23272b;">Video Clipper</div>
<div class="t" style="left:260.8px;top:624.17px;font-size:13.5px;color:#1e2226;font-weight:700;letter-spacing:-0.25px;">Your PodUp Reach Score</div>
<div class="t" style="left:1190.5px;top:626.11px;font-size:10.5px;color:#2079c0;font-weight:700;letter-spacing:-0.29px;">Learn About Reach Score</div>
<div class="t" style="left:328.9px;top:698.88px;font-size:10.3px;color:#2a2f35;letter-spacing:-0.03px;">Total Reach Score</div>
<div class="t" style="left:329.3px;top:718.85px;font-size:42px;color:#1f2328;font-weight:700;letter-spacing:-0.88px;">1487.7K</div>
<div class="t" style="left:342.1px;top:770.19px;font-size:11px;color:#1f2328;font-weight:700;letter-spacing:0.77px;">962</div>
<div class="t" style="left:368.6px;top:770.61px;font-size:10.5px;color:#8b939b;letter-spacing:0.03px;">last 30 days</div>
<div class="t" style="left:636.6px;top:676.11px;font-size:10.5px;color:#2c3136;letter-spacing:-0.12px;">Podcast Reach Score</div>
<div class="t" style="left:637.2px;top:699.87px;font-size:20px;color:#1f2328;font-weight:700;letter-spacing:0.38px;">5.8K</div>
<div class="t" style="left:698.5px;top:704.93px;font-size:10px;color:#8b939b;letter-spacing:0.33px;">No change</div>
<div class="t" style="left:639.7px;top:750.81px;font-size:10.5px;color:#2c3136;letter-spacing:-0.16px;">Blog Reach Score</div>
<div class="t" style="left:639.7px;top:774.47px;font-size:20px;color:#1f2328;font-weight:700;letter-spacing:-1.38px;">1.7K</div>
<div class="t" style="left:696.1px;top:779.89px;font-size:11px;color:#1f2328;font-weight:700;letter-spacing:-0.33px;">153</div>
<div class="t" style="left:716.5px;top:780.31px;font-size:10.5px;color:#8b939b;letter-spacing:0.06px;">last 30 days</div>
<div class="t" style="left:879.7px;top:676.11px;font-size:10.5px;color:#2c3136;letter-spacing:-0.18px;">Social Reach Score</div>
<div class="t" style="left:880.2px;top:699.87px;font-size:20px;color:#1f2328;font-weight:700;letter-spacing:-0.12px;">1459.5K</div>
<div class="t" style="left:973.3px;top:704.93px;font-size:10px;color:#8b939b;letter-spacing:0.30px;">No change</div>
<div class="t" style="left:879.7px;top:750.81px;font-size:10.5px;color:#2c3136;letter-spacing:-0.17px;">Email Reach Score</div>
<div class="t" style="left:880.2px;top:774.27px;font-size:20px;color:#1f2328;font-weight:700;">0</div>
<div class="t" style="left:911.0px;top:780.53px;font-size:10px;color:#8b939b;letter-spacing:0.33px;">No change</div>
<div class="t" style="left:1119.7px;top:676.11px;font-size:10.5px;color:#2c3136;letter-spacing:-0.11px;">Videos Reach Score</div>
<div class="t" style="left:1119.7px;top:699.87px;font-size:20px;color:#1f2328;font-weight:700;letter-spacing:0.52px;">2.5K</div>
<div class="t" style="left:1168.3px;top:704.93px;font-size:10px;color:#8b939b;letter-spacing:0.30px;">No change</div>
<div class="t" style="left:1119.7px;top:750.81px;font-size:10.5px;color:#2c3136;letter-spacing:-0.13px;">Website Reach Score</div>
<div class="t" style="left:1119.7px;top:774.47px;font-size:20px;color:#1f2328;font-weight:700;letter-spacing:-0.42px;">18.2K</div>
<div class="t" style="left:1190.1px;top:780.53px;font-size:10px;color:#8b939b;letter-spacing:0.25px;">No change</div>
<div class="t" style="left:260.5px;top:877.95px;font-size:14px;color:#1e2226;font-weight:700;letter-spacing:-0.44px;">Totals</div>
<div class="t" style="left:1138.2px;top:880.42px;font-size:12.5px;color:#474d54;letter-spacing:-0.27px;-webkit-text-stroke:0.3px #474d54;">This Year</div>
<div class="t" style="left:1258.8px;top:879.50px;font-size:12.4px;color:#474d54;font-weight:700;letter-spacing:-0.27px;">Export</div>
<div class="t" style="left:295.3px;top:955.14px;font-size:12px;color:#1e2226;font-weight:700;letter-spacing:-0.41px;">Podcasts</div>
<div class="t" style="left:728.8px;top:954.78px;font-size:10.3px;color:#8b939b;letter-spacing:0.19px;">Details</div>
<div class="t" style="left:834.5px;top:955.14px;font-size:12px;color:#1e2226;font-weight:700;letter-spacing:-0.47px;">Social</div>
<div class="t" style="left:1264.5px;top:954.68px;font-size:10.3px;color:#8b939b;letter-spacing:0.12px;">Details</div>
<div class="t" style="left:18.5px;top:87.63px;font-size:8px;color:#fff;font-weight:700;">START</div>
<div class="t" style="left:14.2px;top:128.18px;font-size:8px;color:#c3d0dc;font-weight:700;">RECORD</div>
<div class="t" style="left:22.4px;top:168.73px;font-size:8px;color:#c3d0dc;font-weight:700;">EDIT</div>
<div class="t" style="left:15.4px;top:209.28px;font-size:8px;color:#c3d0dc;font-weight:700;">CREATE</div>
<div class="t" style="left:20.2px;top:249.83px;font-size:8px;color:#c3d0dc;font-weight:700;">FILES</div>
<div class="t" style="left:15.0px;top:290.38px;font-size:8px;color:#c3d0dc;font-weight:700;">GUESTS</div>
<div class="t" style="left:15.6px;top:330.93px;font-size:8px;color:#c3d0dc;font-weight:700;">MY SITE</div>
<div class="t" style="left:18.6px;top:371.48px;font-size:8px;color:#c3d0dc;font-weight:700;">GROW</div>
<div class="t" style="left:10.8px;top:412.03px;font-size:8px;color:#c3d0dc;font-weight:700;">MONETIZE</div>
<div class="t" style="left:12.7px;top:452.58px;font-size:8px;color:#c3d0dc;font-weight:700;">AI TOOLS</div>
</body></html>
